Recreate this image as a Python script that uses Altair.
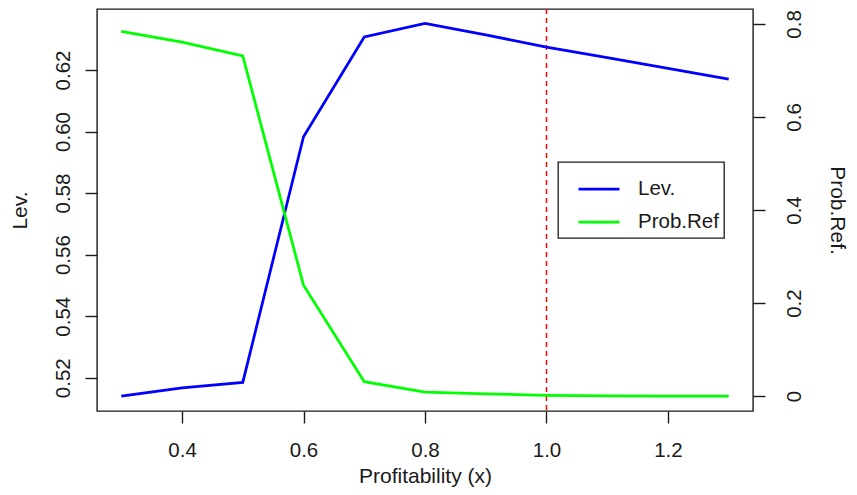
import altair as alt
import pandas as pd

# Data
profit = [0.3, 0.4, 0.5, 0.6, 0.7, 0.8, 0.9, 1.0, 1.1, 1.2, 1.3]
lev = [0.5140, 0.5167, 0.5185, 0.5983, 0.6307, 0.6351, 0.6314, 0.6274, 0.6240, 0.6205, 0.6170]
prob_ref = [0.784, 0.761, 0.731, 0.2385, 0.031, 0.0086, 0.005, 0.0015, 0.0005, 0.0002, 0.0001]
series_names = ["Lev.", "Prob.Ref"]
series_colors = ["#0000ff", "#00ff00"]
cutoff = [1.0]

x_ticks = [0.4, 0.6, 0.8, 1.0, 1.2]
lev_ticks = [0.52, 0.54, 0.56, 0.58, 0.60, 0.62]
prob_ticks = [0.0, 0.2, 0.4, 0.6, 0.8]

df_lev = pd.DataFrame({"x": profit, "lev": lev, "series": series_names[0]})
df_prob = pd.DataFrame({"x": profit, "prob": prob_ref, "series": series_names[1]})
df_rule = pd.DataFrame({"x": cutoff})

FONT = "Liberation Sans"
LFS = 20.5
TFS = 21
INK = "#1a1a1a"

x_enc = alt.X(
    "x:Q",
    scale=alt.Scale(domain=[0.26, 1.34], nice=False, zero=False),
    axis=alt.Axis(
        values=x_ticks, format=".1f", title="Profitability (x)",
        titleY=71.5, titleBaseline="alphabetic",
        labelBaseline="alphabetic", labelPadding=33, tickSize=12,
    ),
)

color_enc = alt.Color(
    "series:N",
    scale=alt.Scale(domain=series_names, range=series_colors),
    legend=alt.Legend(title=None),
)

lev_line = alt.Chart(df_lev).mark_line(strokeWidth=2.75).encode(
    x=x_enc,
    y=alt.Y(
        "lev:Q",
        scale=alt.Scale(domain=[0.5092, 0.6398], nice=False, zero=False),
        axis=alt.Axis(
            orient="left", values=lev_ticks, format=".2f", title="Lev.",
            labelAngle=270, labelAlign="center", labelBaseline="alphabetic",
            labelPadding=16, tickSize=12,
            titleAngle=270, titleBaseline="alphabetic", titleX=-71, titleY=201,
        ),
    ),
    color=color_enc,
)

prob_line = alt.Chart(df_prob).mark_line(strokeWidth=2.75).encode(
    x=x_enc,
    y=alt.Y(
        "prob:Q",
        scale=alt.Scale(domain=[-0.032, 0.832], nice=False, zero=False),
        axis=alt.Axis(
            orient="right", values=prob_ticks, title="Prob.Ref.",
            labelExpr="datum.value == 0 ? '0' : format(datum.value, '.1f')",
            labelAngle=270, labelAlign="center", labelBaseline="alphabetic",
            labelPadding=35, tickSize=12,
            titleAngle=90, titleBaseline="alphabetic", titleX=77, titleY=201,
        ),
    ),
    color=color_enc,
)

rule = alt.Chart(df_rule).mark_rule(color="#ff0000", strokeDash=[5, 4], strokeWidth=1.5).encode(
    x="x:Q"
)

chart = (
    alt.layer(rule, lev_line, prob_line)
    .resolve_scale(y="independent")
    .properties(
        width=656,
        height=402,
        autosize=alt.AutoSizeParams(type="none"),
        padding={"left": 89, "top": 1, "right": 96, "bottom": 76},
        background="white",
    )
    .configure_view(stroke=INK, strokeWidth=1.4)
    .configure_axis(
        grid=False, domain=False,
        labelFont=FONT, labelFontSize=LFS, labelColor=INK,
        titleFont=FONT, titleFontSize=TFS, titleColor=INK, titleFontWeight="normal",
        tickColor=INK, tickWidth=1.4,
    )
    .configure_legend(
        orient="none", legendX=461, legendY=153,
        strokeColor=INK, strokeWidth=1.3, fillColor="white",
        padding=5, symbolOffset=14,
        symbolType="stroke", symbolSize=1681, symbolStrokeWidth=2.75,
        labelFont=FONT, labelFontSize=LFS, labelColor=INK, labelOffset=17,
        labelLimit=0, rowPadding=-15,
    )
)

chart.save("out.html", embed_options={"renderer": "svg", "actions": False})
